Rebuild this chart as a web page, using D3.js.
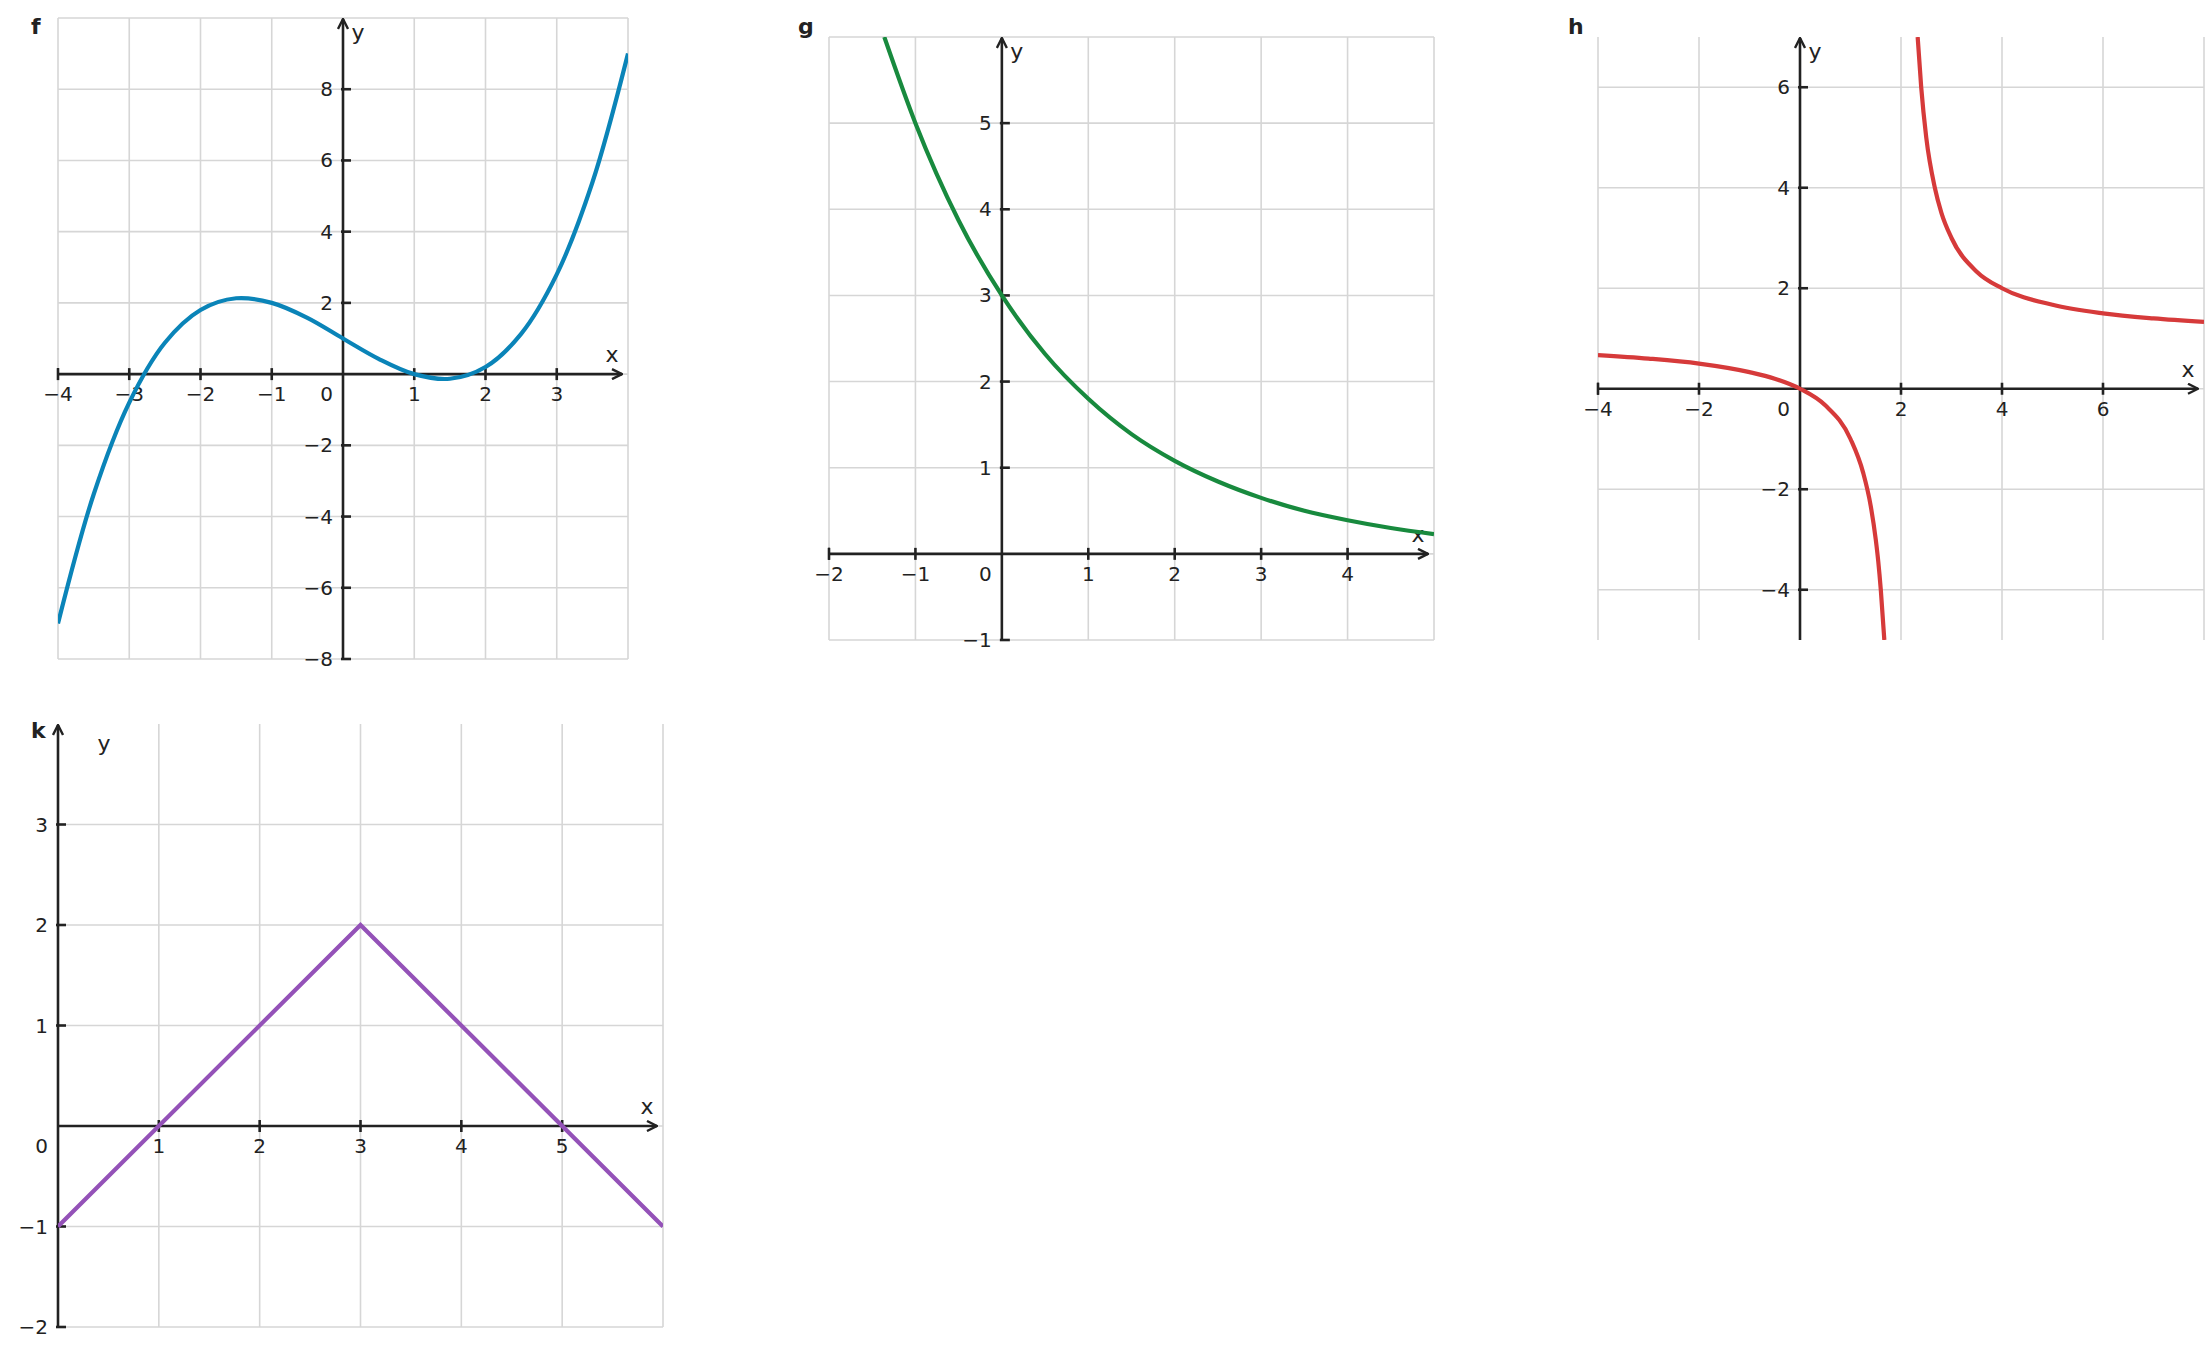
<!DOCTYPE html>
<html><head><meta charset="utf-8">
<script src="https://cdn.jsdelivr.net/npm/d3@7"></script>
<style>body{margin:0;background:#fff}text{font-family:"DejaVu Sans",sans-serif;fill:#222}</style>
</head><body><svg id="c" width="2210" height="1350"></svg>
<script>
// values
var fX = [-4,-3.5,-3,-2.5,-2,-1.5,-1,-0.5,0,0.5,1,1.5,2,2.5,3,3.5,4];
var fY = [-7,-3.38,-0.8,0.88,1.8,2.13,2,1.58,1,0.43,0,-0.13,0.2,1.13,2.8,5.38,9];
var gX = [-1.36,-1,-0.5,0,0.5,1,1.5,2,2.5,3,3.5,4,4.5,5];
var gY = [6,5,3.87,3,2.32,1.8,1.39,1.08,0.84,0.65,0.5,0.39,0.3,0.23];
var hX1 = [-4,-3,-2,-1,-0.5,0,0.5,1,1.25,1.4,1.5,1.55,1.6,1.67];
var hY1 = [0.67,0.6,0.5,0.33,0.2,0,-0.33,-1,-1.67,-2.33,-3,-3.44,-4,-5];
var hX2 = [2.33,2.4,2.5,2.67,2.8,3,3.5,4,5,6,7,8];
var hY2 = [7,6,5,4,3.5,3,2.33,2,1.67,1.5,1.4,1.33];
var kX = [0,3,6];
var kY = [-1,2,-1];

var panels = [
  {name:"f", box:[58,628,18,659], xd:[-4,4], yd:[-8,10], gx:[-4,-3,-2,-1,0,1,2,3,4], gy:[-8,-6,-4,-2,0,2,4,6,8,10],
   xt:[-4,-3,-2,-1,1,2,3], yt:[-8,-6,-4,-2,2,4,6,8], color:"#0a84b8", series:[[fX,fY]], curve:d3.curveCatmullRom},
  {name:"g", box:[829,1434,37,640], xd:[-2,5], yd:[-1,6], gx:[-2,-1,0,1,2,3,4,5], gy:[-1,0,1,2,3,4,5,6],
   xt:[-2,-1,1,2,3,4], yt:[-1,1,2,3,4,5], color:"#188a3e", series:[[gX,gY]], curve:d3.curveMonotoneX},
  {name:"h", box:[1598,2204,37,640], xd:[-4,8], yd:[-5,7], gx:[-4,-2,0,2,4,6,8], gy:[-4,-2,0,2,4,6],
   xt:[-4,-2,2,4,6], yt:[-4,-2,2,4,6], color:"#d63a3a", series:[[hX1,hY1],[hX2,hY2]], curve:d3.curveMonotoneX},
  {name:"k", box:[58,663,724,1327], xd:[0,6], yd:[-2,4], gx:[0,1,2,3,4,5,6], gy:[-2,-1,0,1,2,3],
   xt:[1,2,3,4,5], yt:[-2,-1,1,2,3], color:"#9452b8", series:[[kX,kY]], curve:d3.curveLinear}
];

var svg = d3.select("#c");
var defs = svg.append("defs");
defs.append("marker").attr("id","arr").attr("viewBox","0 0 12 12").attr("refX",11).attr("refY",6)
  .attr("markerWidth",12).attr("markerHeight",12).attr("markerUnits","userSpaceOnUse").attr("orient","auto")
  .append("path").attr("d","M1,1 L11,6 L1,11").attr("fill","none").attr("stroke","#222").attr("stroke-width",2.4);

panels.forEach(p => {
  var x = d3.scaleLinear().domain(p.xd).range([p.box[0],p.box[1]]);
  var y = d3.scaleLinear().domain(p.yd).range([p.box[3],p.box[2]]);
  var g = svg.append("g");
  var x0 = x(0), y0 = y(0);
  g.selectAll(".gx").data(p.gx).join("line").attr("x1",d=>x(d)).attr("x2",d=>x(d))
    .attr("y1",p.box[2]).attr("y2",p.box[3]).attr("stroke","#d6d6d6").attr("stroke-width",1.6);
  g.selectAll(".gy").data(p.gy).join("line").attr("y1",d=>y(d)).attr("y2",d=>y(d))
    .attr("x1",p.box[0]).attr("x2",p.box[1]).attr("stroke","#d6d6d6").attr("stroke-width",1.6);

  // axes
  g.append("line").attr("x1",p.box[0]).attr("x2",p.box[1]-6).attr("y1",y0).attr("y2",y0)
    .attr("stroke","#222").attr("stroke-width",2.6).attr("marker-end","url(#arr)");
  g.append("line").attr("x1",x0).attr("x2",x0).attr("y1",p.box[3]).attr("y2",p.box[2]+1)
    .attr("stroke","#222").attr("stroke-width",2.6).attr("marker-end","url(#arr)");
  g.append("line").attr("x1",p.box[0]).attr("x2",p.box[0]).attr("y1",y0-6).attr("y2",y0+6).attr("stroke","#222").attr("stroke-width",2);

  g.selectAll(".tx").data(p.xt).join("line").attr("x1",d=>x(d)).attr("x2",d=>x(d))
    .attr("y1",y0-6).attr("y2",y0+6).attr("stroke","#222").attr("stroke-width",2.6);
  g.selectAll(".ty").data(p.yt).join("line").attr("y1",d=>y(d)).attr("y2",d=>y(d))
    .attr("x1",x0-2).attr("x2",x0+8).attr("stroke","#222").attr("stroke-width",2.6);
  var fmt = d => d < 0 ? "\u2212" + (-d) : String(d);
  g.selectAll(".lx").data(p.xt).join("text").attr("x",d=>x(d)).attr("y",y0+27)
    .attr("text-anchor","middle").attr("font-size",20).text(fmt);
  g.selectAll(".ly").data(p.yt).join("text").attr("x",x0-10).attr("y",d=>y(d)+7)
    .attr("text-anchor","end").attr("font-size",20).text(fmt);
  g.append("text").attr("x",x0-10).attr("y",y0+27).attr("text-anchor","end").attr("font-size",20).text("0");
  g.append("text").attr("x",p.box[1]-16).attr("y",y0-12).attr("text-anchor","middle").attr("font-size",22).text("x");
  g.append("text").attr("x",p.name=="k" ? x0+46 : x0+15).attr("y",p.box[2]+(p.name=="k"?27:22))
    .attr("text-anchor","middle").attr("font-size",22).text("y");
  g.append("text").attr("x",p.box[0]-(p.name=="g"?31:p.name=="h"?30:27)).attr("y",p.name=="k"?p.box[2]+14:34)
    .attr("font-size",22).attr("font-weight","bold").text(p.name);

  var clip = "clip" + p.name;
  defs.append("clipPath").attr("id",clip).append("rect").attr("x",p.box[0]).attr("y",p.box[2])
    .attr("width",p.box[1]-p.box[0]).attr("height",p.box[3]-p.box[2]);
  var line = d3.line().x(d=>x(d[0])).y(d=>y(d[1])).curve(p.curve);
  p.series.forEach(s => {
    g.append("path").attr("d",line(s[0].map((v,i)=>[v,s[1][i]]))).attr("fill","none")
      .attr("stroke",p.color).attr("stroke-width",4.2).attr("clip-path","url(#"+clip+")");
  });
});
</script></body></html>
